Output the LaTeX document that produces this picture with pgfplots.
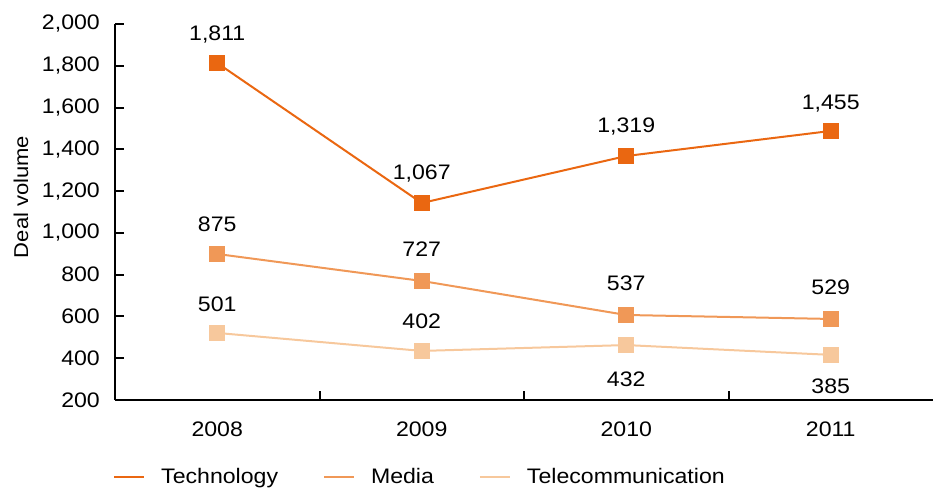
\documentclass[border=0pt]{standalone}
\usepackage{fontspec}
\setmainfont[FakeStretch=1.1]{Liberation Sans}
\usepackage{pgfplots}
\pgfplotsset{compat=1.18}
\definecolor{tech}{RGB}{234,103,17}
\definecolor{media}{RGB}{240,152,87}
\definecolor{tele}{RGB}{247,200,156}
\newcommand{\chfont}{\fontsize{21}{25}\selectfont}
\begin{document}
\chfont
\begin{tikzpicture}
\useasboundingbox (-115pt,-88pt) rectangle (818pt,400pt);
\begin{axis}[
  scale only axis, width=818pt, height=376pt,
  xmin=-0.5, xmax=3.5, ymin=200, ymax=2000,
  axis lines*=left,
  axis line style={line width=2pt, black},
  tick align=inside, major tick length=9pt,
  tick style={line width=2pt, black},
  ytick={200,400,...,2000},
  xtick={0.5,1.5,2.5}, xticklabels={{},{},{}},
  extra x ticks={0,1,2,3},
  extra x tick labels={2008,2009,2010,2011},
  extra x tick style={major tick length=0pt},
  /pgf/number format/.cd, 1000 sep={,}, assume math mode=true, /pgfplots/.cd,
  yticklabel style={font=\chfont, inner sep=0pt, anchor=east, xshift=-15pt},
  xticklabel style={font=\chfont, inner sep=0pt, anchor=north, yshift=-22pt},
  ylabel={Deal volume},
  ylabel style={font=\fontsize{20}{24}\selectfont, at={(axis description cs:-0.1149,0.54)}, anchor=center},
  legend columns=3,
  legend style={at={(axis description cs:0,0)}, anchor=north west, xshift=-2pt, yshift=-68pt,
    draw=none, fill=none, inner sep=0pt, font=\chfont,
    nodes={inner sep=0pt},
    /tikz/every odd column/.append style={column sep=16pt},
    /tikz/every even column/.append style={column sep=45pt}},
  legend cell align=left,
  legend image code/.code={\draw[#1] (0pt,0pt) -- (30pt,0pt);},
  nodes near coords,
  point meta=explicit symbolic,
  visualization depends on={\thisrow{off} \as \myoff},
  every node near coord/.append style={font=\chfont, text=black, anchor=base, yshift=\myoff pt, inner sep=0pt},
  clip=false,
]
\addplot[tech, line width=2pt, mark=square*, mark size=7pt, mark options={solid, fill=tech}]
  table[x=x, y=y, meta=lab] {
x y lab off
0 1813 1,811 22.3
1 1143 1,067 23.3
2 1368 1,319 23.3
3 1488 1,455 21.8
};
\addlegendentry{Technology}
\addplot[media, line width=2pt, mark=square*, mark size=7pt, mark options={solid, fill=media}]
  table[x=x, y=y, meta=lab] {
x y lab off
0 899 875 22.8
1 770 727 24.3
2 607 537 24.3
3 588 529 24.8
};
\addlegendentry{Media}
\addplot[tele, line width=2pt, mark=square*, mark size=7pt, mark options={solid, fill=tele}]
  table[x=x, y=y, meta=lab] {
x y lab off
0 521 501 21.8
1 435 402 22.3
2 463 432 -41.7
3 416 385 -38.7
};
\addlegendentry{Telecommunication}
\end{axis}
\end{tikzpicture}
\end{document}
